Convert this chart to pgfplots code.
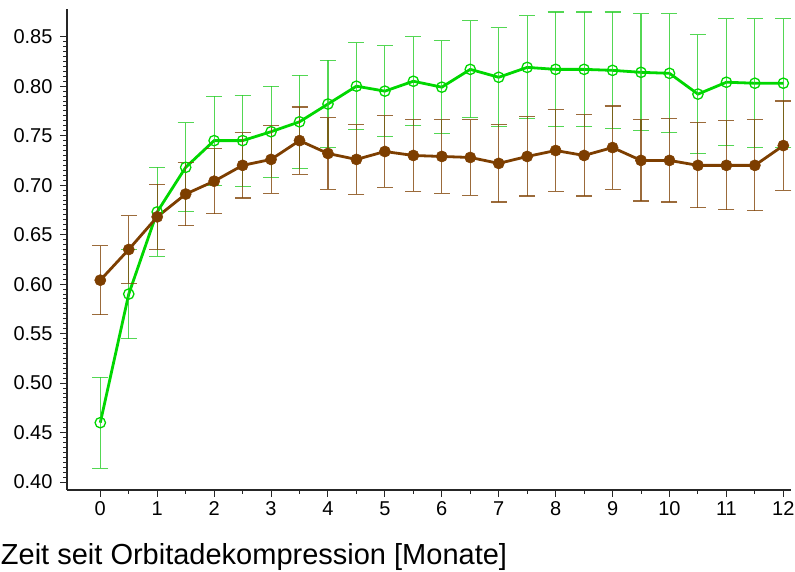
\documentclass[border=0pt]{standalone}
\usepackage{fontspec}
\setmainfont{Liberation Sans}
\usepackage{pgfplots}
\usepackage{pgfplotstable}
\pgfplotsset{compat=1.18}

\definecolor{grn}{RGB}{0,215,0}
\definecolor{grnbar}{RGB}{40,205,40}
\definecolor{brn}{RGB}{125,62,0}
\definecolor{brnbar}{RGB}{130,70,10}

% x, mean, error
\pgfplotstableread{
x y e
0 0.460 0.046
0.5 0.590 0.045
1 0.673 0.045
1.5 0.718 0.045
2 0.745 0.045
2.5 0.745 0.046
3 0.754 0.046
3.5 0.764 0.047
4 0.782 0.044
4.5 0.800 0.044
5 0.795 0.046
5.5 0.805 0.045
6 0.799 0.047
6.5 0.817 0.049
7 0.809 0.050
7.5 0.819 0.052
8 0.817 0.058
8.5 0.817 0.058
9 0.816 0.059
9.5 0.814 0.059
10 0.813 0.060
10.5 0.792 0.060
11 0.804 0.064
11.5 0.803 0.065
12 0.803 0.065
}\greendata

\pgfplotstableread{
x y e
0 0.604 0.035
0.5 0.635 0.034
1 0.668 0.033
1.5 0.691 0.032
2 0.704 0.033
2.5 0.720 0.033
3 0.726 0.034
3.5 0.745 0.034
4 0.732 0.036
4.5 0.726 0.035
5 0.734 0.036
5.5 0.730 0.036
6 0.729 0.037
6.5 0.728 0.038
7 0.722 0.039
7.5 0.729 0.040
8 0.735 0.041
8.5 0.730 0.041
9 0.738 0.042
9.5 0.725 0.041
10 0.725 0.042
10.5 0.720 0.043
11 0.720 0.045
11.5 0.720 0.046
12 0.740 0.045
}\browndata

\begin{document}
\begin{tikzpicture}
\begin{axis}[
    scale only axis,
    width=724pt, height=481pt,
    xmin=-0.585, xmax=12.135,
    ymin=0.392, ymax=0.878,
    axis lines*=left,
    axis line style={line width=1.4pt, black!85},
    tick align=outside,
    major tick length=7pt,
    minor tick length=4pt,
    tick style={line width=1pt, black!85},
    xtick={0,1,...,12},
    minor x tick num=1,
    ytick={0.40,0.45,...,0.86},
    minor y tick num=9,
    tick label style={font=\fontsize{20}{24}\selectfont},
    /pgf/number format/assume math mode=true,
    y tick label style={xshift=-4pt, /pgf/number format/fixed, /pgf/number format/fixed zerofill, /pgf/number format/precision=2},
    x tick label style={yshift=-1pt},
    xlabel={Zeit seit Orbitadekompression [Monate]},
    xlabel style={font=\fontsize{29}{35}\selectfont, at={(axis description cs:-0.0915,-0.11)}, anchor=north west, inner sep=0pt},
    clip=false,
]
\addplot[color=grn, line width=2.8pt, mark=o, mark size=5.2pt,
    mark options={line width=1.3pt, fill=none},
    error bars/.cd, y dir=both, y explicit,
    error bar style={line width=1.1pt, grnbar, opacity=0.8},
    error mark options={rotate=90, mark size=8pt, line width=1.1pt, grnbar, opacity=0.8}]
    table[x=x, y=y, y error=e] {\greendata};
\addplot[color=brn, line width=2.8pt, mark=*, mark size=5.6pt,
    mark options={fill=brn, draw=brn, line width=0.5pt},
    error bars/.cd, y dir=both, y explicit,
    error bar style={line width=1.1pt, brnbar, opacity=0.8},
    error mark options={rotate=90, mark size=8pt, line width=1.1pt, brnbar, opacity=0.8}]
    table[x=x, y=y, y error=e] {\browndata};
\end{axis}
\pgfresetboundingbox
\path (current axis.south west) ++(-67pt,-82pt) rectangle ++(795pt,572pt);
\end{tikzpicture}
\end{document}
